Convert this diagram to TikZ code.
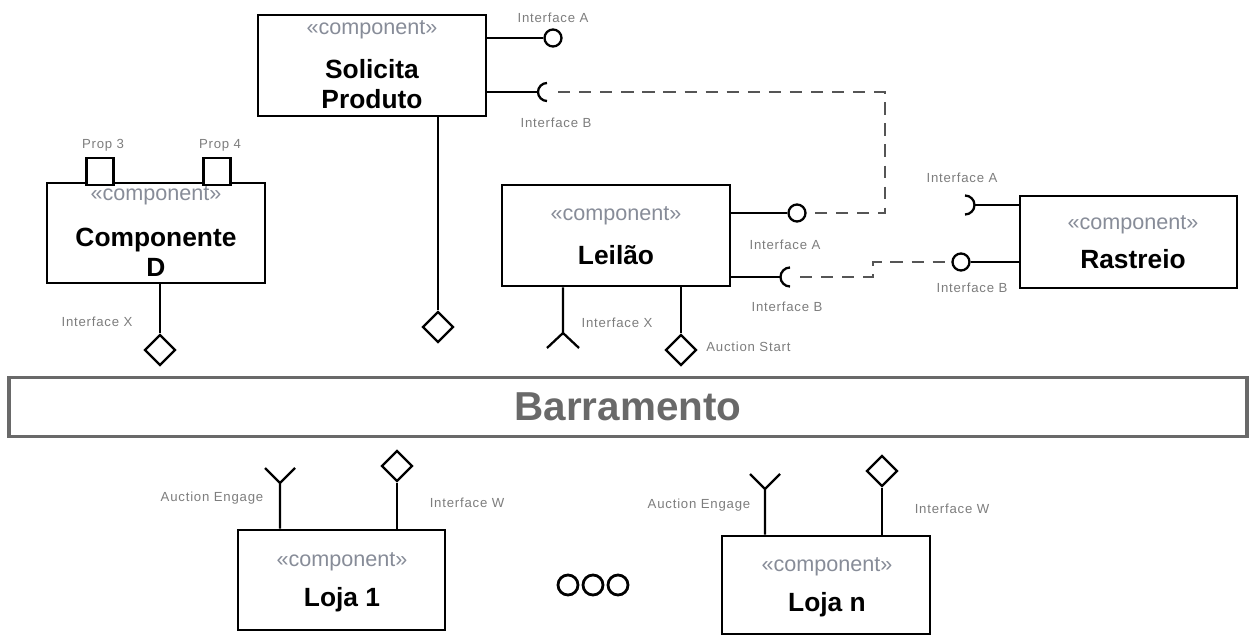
\documentclass[tikz,border=0pt]{standalone}
\usepackage{fontspec}
\setmainfont{Liberation Sans}
\newfontfamily\lblfont[LetterSpace=6]{Liberation Sans}
\usetikzlibrary{shapes.geometric,positioning}
\definecolor{stereogray}{RGB}{135,140,152}
\definecolor{labelgray}{RGB}{125,125,125}
\definecolor{busgray}{RGB}{105,105,105}
\definecolor{dashgray}{RGB}{85,85,85}

\begin{document}
\begin{tikzpicture}[x=0.02cm, y=-0.02cm,
    comp/.style={draw, line width=1.6pt, inner sep=0pt},
    stereo/.style={text=stereogray, font=\fontsize{12.3}{15}\selectfont, inner sep=0pt},
    cname/.style={font=\fontsize{15}{17}\selectfont\bfseries, align=center, inner sep=0pt},
    lbl/.style={text=labelgray, font=\lblfont\fontsize{7.5}{9}\selectfont, inner sep=0pt},
    stem/.style={line width=1.3pt},
    ball/.style={circle, draw, line width=1.3pt, fill=white, minimum size=0.34cm, inner sep=0pt},
    prov/.style={diamond, draw, line width=1.3pt, fill=white, minimum width=0.62cm, minimum height=0.62cm, inner sep=0pt},
    port/.style={draw, line width=1.3pt, fill=white, minimum size=0.54cm, inner sep=0pt},
    dashlink/.style={dashgray, line width=1.2pt, dash pattern=on 7pt off 5pt}]
    \useasboundingbox (0,0) rectangle (1249,635);

    % Solicita Produto
    \node[comp, minimum width=4.56cm, minimum height=2.02cm] (sol) at (372,65.5) {};
    \node[stereo] (solS) at (372,30) {«component»};
    \node[cname] (solN) at (372,84) {Solicita\\Produto};
    \node[ball] (solA) at (553,38) {};
    \draw[stem] (sol.east |- solA) -- (solA);
    \node[lbl] (solAl) at (553,18) {Interface A};
    \coordinate (solB) at (547,92);
    \draw[stem] (sol.east |- solB) -- ([xshift=-0.18cm]solB);
    \draw[stem] ([yshift=0.18cm]solB) arc[start angle=90, end angle=270, radius=0.18cm];
    \node[lbl] (solBl) at (556,123) {Interface B};
    \node[prov] (solP) at (438,327) {};
    \draw[stem] (sol.south -| solP) -- (solP);

    % Componente D
    \node[comp, minimum width=4.36cm, minimum height=2.0cm] (cd) at (156,233) {};
    \node[port] (p3) at (100,171.5) {};
    \node[port] (p4) at (217,171.5) {};
    \node[lbl] (p3l) at (103,145) {Prop 3};
    \node[lbl] (p4l) at (220,145) {Prop 4};
    \node[stereo] (cdS) at (156,196) {«component»};
    \node[cname] (cdN) at (156,252) {Componente\\D};
    \node[prov] (cdX) at (160,350) {};
    \draw[stem] (cd.south -| cdX) -- (cdX);
    \node[lbl] (cdXl) at (97,322) {Interface X};

    % Leilao
    \node[comp, minimum width=4.56cm, minimum height=2.02cm] (lei) at (616,235.5) {};
    \node[stereo] (leiS) at (616,216) {«component»};
    \node[cname] (leiN) at (616,255) {Leilão};
    \node[ball] (leiA) at (797,213) {};
    \draw[stem] (lei.east |- leiA) -- (leiA);
    \node[lbl] (leiAl) at (785,245) {Interface A};
    \coordinate (leiB) at (790,277);
    \draw[stem] (lei.east |- leiB) -- ([xshift=-0.19cm]leiB);
    \draw[stem] ([yshift=0.19cm]leiB) arc[start angle=90, end angle=270, radius=0.19cm];
    \node[lbl] (leiBl) at (787,307) {Interface B};
    \coordinate (leiX) at (563,333);
    \draw[stem] (lei.south -| leiX) -- (leiX) -- ++(-16,15) (leiX) -- ++(16,15);
    \node[lbl] (leiXl) at (617,323) {Interface X};
    \node[prov] (leiP) at (681,350) {};
    \draw[stem] (lei.south -| leiP) -- (leiP);
    \node[lbl, anchor=west] (leiPl) at (706,347) {Auction Start};

    % Rastreio
    \node[comp, minimum width=4.34cm, minimum height=1.84cm] (rast) at (1128.5,242) {};
    \node[stereo] (rastS) at (1133,225) {«component»};
    \node[cname] (rastN) at (1133,259) {Rastreio};
    \coordinate (rastA) at (965,205);
    \draw[stem] ([xshift=0.19cm]rastA) -- (rast.west |- rastA);
    \draw[stem] ([yshift=0.19cm]rastA) arc[start angle=90, end angle=-90, radius=0.19cm];
    \node[lbl] (rastAl) at (962,178) {Interface A};
    \node[ball] (rastB) at (961,262) {};
    \draw[stem] (rastB) -- (rast.west |- rastB);
    \node[lbl] (rastBl) at (972,288) {Interface B};

    % dashed links
    \coordinate (bend1) at (885,213);
    \coordinate (bend2) at (873,277);
    \draw[dashlink] ([xshift=0.22cm]solB) -| (bend1) -- (leiA);
    \draw[dashlink] ([xshift=0.2cm]leiB) -- (bend2) |- (rastB);

    % Barramento
    \node[draw=busgray, line width=2pt, minimum width=24.76cm, minimum height=1.18cm, text=busgray,
      font=\fontsize{23}{26}\selectfont\bfseries] (bus) at (628,407) {Barramento};

    % Loja 1
    \node[comp, minimum width=4.14cm, minimum height=2.0cm] (loja1) at (341.5,580) {};
    \node[stereo] (l1S) at (342,562) {«component»};
    \node[cname] (l1N) at (342,600) {Loja 1};
    \coordinate (l1E) at (280,483);
    \draw[stem] (loja1.north -| l1E) -- (l1E) -- ++(-15,-15) (l1E) -- ++(15,-15);
    \node[lbl] (l1El) at (212,498) {Auction Engage};
    \node[prov] (l1W) at (397,466) {};
    \draw[stem] (loja1.north -| l1W) -- (l1W);
    \node[lbl] (l1Wl) at (467,503) {Interface W};

    % ooo
    \foreach \x [count=\i] in {568,593,618}
      \node[circle, draw, line width=1.6pt, minimum size=0.4cm, inner sep=0pt] (dot\i) at (\x,585) {};

    % Loja n
    \node[comp, minimum width=4.16cm, minimum height=1.96cm] (lojan) at (826,585) {};
    \node[stereo] (lnS) at (827,567) {«component»};
    \node[cname] (lnN) at (827,605) {Loja n};
    \coordinate (lnE) at (765,489);
    \draw[stem] (lojan.north -| lnE) -- (lnE) -- ++(-15,-15) (lnE) -- ++(15,-15);
    \node[lbl] (lnEl) at (699,505) {Auction Engage};
    \node[prov] (lnW) at (882,471) {};
    \draw[stem] (lojan.north -| lnW) -- (lnW);
    \node[lbl] (lnWl) at (952,509) {Interface W};
\end{tikzpicture}
\end{document}
